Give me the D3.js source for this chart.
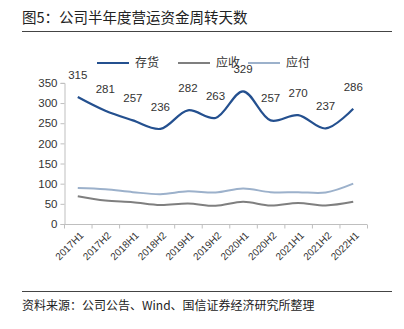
<!DOCTYPE html>
<html><head><meta charset="utf-8">
<script src="https://cdn.jsdelivr.net/npm/d3@7"></script>
<style>body{margin:0;background:#fff}svg{display:block}</style>
</head><body>
<svg id="c" width="404" height="329"></svg>
<script>
const categories = ["2017H1","2017H2","2018H1","2018H2","2019H1","2019H2","2020H1","2020H2","2021H1","2021H2","2022H1"];
const inventory = [315,281,257,236,282,263,329,257,270,237,286];
const receivable = [69,58,54,47,51,45,55,46,52,46,55];
const payable = [89,86,79,74,81,78,88,79,79,78,100];
const yTicks = [0,50,100,150,200,250,300,350];
const seriesNames = ["存货","应收","应付"];
const seriesColors = ["#24508f","#7f7f7f","#9cb1cb"];

const svg = d3.select("#c");
const cjk = "'Noto Sans CJK SC', sans-serif";
const num = "'Liberation Sans', Arial, sans-serif";

// title
svg.append("text").attr("x",22).attr("y",23).attr("font-family",cjk).attr("font-size",14.5).attr("fill","#222").text("图5：公司半年度营运资金周转天数");
svg.append("line").attr("x1",22).attr("x2",392).attr("y1",31.5).attr("y2",31.5).attr("stroke","#444").attr("stroke-width",1);
svg.append("line").attr("x1",22).attr("x2",392).attr("y1",291.5).attr("y2",291.5).attr("stroke","#444").attr("stroke-width",1);
svg.append("text").attr("x",22).attr("y",310).attr("font-family",cjk).attr("font-size",12).attr("fill","#222").text("资料来源：公司公告、Wind、国信证券经济研究所整理");

const x = d3.scaleBand().domain(categories).range([64,367]);
const y = d3.scaleLinear().domain([0,350]).range([224,82.9]);

// axes
const yAxis = svg.append("g").attr("transform","translate(64.5,0)")
  .call(d3.axisLeft(y).tickValues(yTicks).tickSize(4).tickPadding(3));
yAxis.select(".domain").attr("stroke","#bfbfbf");
yAxis.selectAll(".tick line").attr("stroke","#bfbfbf");
yAxis.selectAll("text").attr("font-family",num).attr("font-size",11.5).attr("fill","#333");

const xg = svg.append("g").attr("transform","translate(0,224.5)");
xg.append("line").attr("x1",64).attr("x2",367).attr("stroke","#bfbfbf");
const bounds = categories.map(c=>x(c)).concat([x.range()[1]]);
xg.selectAll("line.t").data(bounds).join("line").attr("class","t")
  .attr("x1",d=>d+0.5).attr("x2",d=>d+0.5).attr("y1",0).attr("y2",4).attr("stroke","#bfbfbf");
xg.selectAll("text").data(categories).join("text")
  .attr("transform",d=>`translate(${x(d)+x.bandwidth()/2+4},${9}) rotate(-45)`)
  .attr("text-anchor","end").attr("dy","0.35em")
  .attr("font-family",num).attr("font-size",10).attr("fill","#333").text(d=>d);

// lines
const cx = (d,i)=>x(categories[i])+x.bandwidth()/2;
const line = d3.line().x(cx).y(d=>y(d)).curve(d3.curveCatmullRom.alpha(0.5));
[payable, receivable, inventory].forEach((s,k)=>{
  const idx = [2,1,0][k];
  svg.append("path").attr("d",line(s)).attr("fill","none")
    .attr("stroke",seriesColors[idx]).attr("stroke-width",idx===0?2.2:2);
});

// data labels
svg.selectAll("text.lbl").data(inventory).join("text").attr("class","lbl")
  .attr("x",cx).attr("y",(d)=>y(d)-22).attr("dy","0.35em").attr("text-anchor","middle")
  .attr("font-family",num).attr("font-size",11.5).attr("fill","#333").text(d=>d);

// legend
const lx = [97,178,248];
seriesNames.forEach((n,i)=>{
  svg.append("line").attr("x1",lx[i]).attr("x2",lx[i]+32).attr("y1",63).attr("y2",63)
    .attr("stroke",seriesColors[i]).attr("stroke-width",2);
  svg.append("text").attr("x",lx[i]+38).attr("y",63).attr("dy","0.35em")
    .attr("font-family",cjk).attr("font-size",12).attr("fill","#333").text(n);
});
</script>
</body></html>
